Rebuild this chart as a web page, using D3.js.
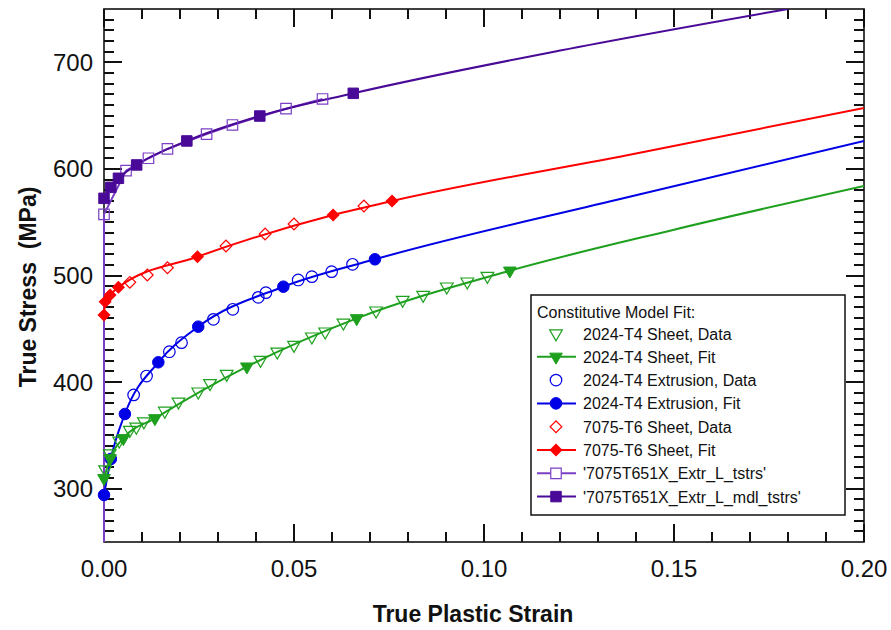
<!DOCTYPE html>
<html>
<head>
<meta charset="utf-8">
<script src="https://cdn.jsdelivr.net/npm/d3@7"></script>
<style>
	body { margin: 0; background: #fff; }
	text { font-family: "Liberation Sans", Arial, sans-serif; }
</style>
</head>
<body>
<div id="chart"></div>
<script>
// Data: [true plastic strain, true stress (MPa)]

const sheet2024Data = [
	[0.0003, 318], [0.0015, 333], [0.0040, 345], [0.0068, 355], [0.0085, 358], [0.0105, 363],
	[0.0160, 373], [0.0196, 381.6], [0.0248, 391], [0.0279, 398.9], [0.0323, 407.6], [0.0412, 420.7],
	[0.0456, 428.5], [0.0500, 434.8], [0.0547, 442.6], [0.0582, 447.3], [0.0630, 455.7], [0.0716, 467],
	[0.0786, 477], [0.0840, 481.7], [0.0902, 489.5], [0.0956, 494.2], [0.1009, 499.5]
]
const sheet2024FitMarks = [
	[0.0000, 309.8], [0.0016, 328.5], [0.0051, 347.3], [0.0134, 366], [0.0376, 414.5], [0.0665, 459.8], [0.1068, 504.5]
]
const sheet2024FitTail = [[0.1500, 543], [0.2000, 584]]

const extr2024Data = [
	[0.0078, 388], [0.0112, 405.7], [0.0172, 428.5], [0.0204, 437], [0.0288, 458.9], [0.0339, 468.3],
	[0.0406, 479.5], [0.0426, 483.9], [0.0511, 495.8], [0.0547, 498.9], [0.0599, 503.6], [0.0654, 510.5]
]
const extr2024FitMarks = [
	[0.0000, 294.1], [0.0018, 327.9], [0.0055, 370.1], [0.0143, 418.6], [0.0248, 452], [0.0472, 489.5], [0.0713, 515.2]
]
const extr2024FitTail = [[0.1350, 571], [0.2000, 626.2]]

const sheet7075Data = [
	[0.0068, 493.6], [0.0114, 500.5], [0.0167, 507.3], [0.0321, 527.7], [0.0424, 538.9], [0.0500, 548.3], [0.0684, 565.2]
]
const sheet7075FitMarks = [
	[0.0000, 463], [0.0003, 475.4], [0.0016, 481.7], [0.0038, 488.9], [0.0246, 517.6], [0.0603, 556.8], [0.0758, 569.9]
]
const sheet7075FitTail = [[0.1400, 614.5], [0.2000, 657.1]]

const extr7075Data = [
	[0.0000, 0], [0.0000, 557.4], [0.0058, 598.3], [0.0117, 610], [0.0167, 618.7], [0.0270, 632.7],
	[0.0338, 641.2], [0.0479, 656.5], [0.0575, 665.6]
]
const extr7075FitMarks = [
	[0.0000, 572.4], [0.0018, 582.7], [0.0038, 591.2], [0.0086, 603.7], [0.0218, 626.2], [0.0410, 649.6], [0.0656, 670.9]
]
const extr7075FitTail = [[0.1200, 711], [0.1800, 750]]

const xTicks = [0, 0.05, 0.10, 0.15, 0.20]
const xMinorTicks = [0.01, 0.02, 0.03, 0.04, 0.06, 0.07, 0.08, 0.09, 0.11, 0.12, 0.13, 0.14, 0.16, 0.17, 0.18, 0.19]
const yTicks = [300, 400, 500, 600, 700]
const yMinorTicks = [260, 270, 280, 290, 310, 320, 330, 340, 350, 360, 370, 380, 390, 410, 420, 430, 440, 450,
	460, 470, 480, 490, 510, 520, 530, 540, 550, 560, 570, 580, 590, 610, 620, 630, 640, 650, 660, 670, 680, 690,
	710, 720, 730, 740]

const legendTitle = "Constitutive Model Fit:"
const legendLabels = [
	"2024-T4 Sheet, Data", "2024-T4 Sheet, Fit",
	"2024-T4 Extrusion, Data", "2024-T4 Extrusion, Fit",
	"7075-T6 Sheet, Data", "7075-T6 Sheet, Fit",
	"'7075T651X_Extr_L_tstrs'", "'7075T651X_Extr_L_mdl_tstrs'"
]

// Config
const dims = { width: 891, height: 630, left: 104, right: 864, top: 9, bottom: 542 }

const colors = {
	green: '#1ea01e',
	blue: '#0000e6',
	red: '#ff0000',
	purpleLight: '#7a3fc4',
	purpleDark: '#4a0a98'
}

// Symbol paths centred at 0,0
function symbolPath(kind) {
	if (kind === 'triangle') return d3.symbol().type(d3.symbolTriangle).size(70)()
	if (kind === 'circle') return d3.symbol().type(d3.symbolCircle).size(105)()
	if (kind === 'diamond') return d3.symbol().type(d3.symbolSquare).size(68)()
	return d3.symbol().type(d3.symbolSquare).size(110)()
}

function symbolTransform(kind, x, y) {
	if (kind === 'triangle') return `translate(${x},${y}) rotate(180)`
	if (kind === 'diamond') return `translate(${x},${y}) rotate(45)`
	return `translate(${x},${y})`
}

function drawMarkers(g, data, kind, color, filled, xScale, yScale) {
	g.append('g').selectAll('path')
		.data(data)
		.join('path')
		.attr('d', symbolPath(kind))
		.attr('transform', (d) => symbolTransform(kind, xScale(d[0]), yScale(d[1])))
		.attr('fill', filled ? color : 'none')
		.attr('stroke', color)
		.attr('stroke-width', filled ? 1 : 1.2)
}

// Builds one path with every inward tick of the frame
function frameTicks(xScale, yScale) {
	const p = d3.path()
	const addX = (values, len) => values.forEach((v) => {
		const x = Math.round(xScale(v))
		p.moveTo(x, dims.bottom); p.lineTo(x, dims.bottom - len)
		p.moveTo(x, dims.top); p.lineTo(x, dims.top + len)
	})
	const addY = (values, len) => values.forEach((v) => {
		const y = Math.round(yScale(v))
		p.moveTo(dims.left, y); p.lineTo(dims.left + len, y)
		p.moveTo(dims.right, y); p.lineTo(dims.right - len, y)
	})
	addX(xTicks, 18)
	addX(xMinorTicks, 10)
	addY(yTicks, 18)
	addY(yMinorTicks, 10)
	return p.toString()
}

function makePlot() {
	const svg = d3.select('#chart')
		.append('svg')
		.attr('width', dims.width)
		.attr('height', dims.height)

	const xScale = d3.scaleLinear()
		.domain([0, 0.2])
		.range([dims.left, dims.right])

	const yScale = d3.scaleLinear()
		.domain([250, 750])
		.range([dims.bottom, dims.top])

	svg.append('clipPath')
		.attr('id', 'plotClip')
		.append('rect')
		.attr('x', dims.left - 8)
		.attr('y', dims.top)
		.attr('width', dims.right - dims.left + 8)
		.attr('height', dims.bottom - dims.top)

	// Frame and ticks
	svg.append('path')
		.attr('d', frameTicks(xScale, yScale))
		.attr('fill', 'none')
		.attr('stroke', '#111')
		.attr('stroke-width', 2)

	svg.append('rect')
		.attr('x', dims.left)
		.attr('y', dims.top)
		.attr('width', dims.right - dims.left)
		.attr('height', dims.bottom - dims.top)
		.attr('fill', 'none')
		.attr('stroke', '#111')
		.attr('stroke-width', 1.6)

	// Tick labels
	svg.append('g').selectAll('text')
		.data(xTicks)
		.join('text')
		.attr('x', (d) => xScale(d))
		.attr('y', 577)
		.attr('text-anchor', 'middle')
		.attr('font-size', '24px')
		.attr('fill', '#111')
		.text((d) => d3.format('.2f')(d))

	svg.append('g').selectAll('text')
		.data(yTicks)
		.join('text')
		.attr('x', 93)
		.attr('y', (d) => yScale(d) + 8.5)
		.attr('text-anchor', 'end')
		.attr('font-size', '24px')
		.attr('fill', '#111')
		.text((d) => d)

	// Axis titles
	svg.append('text')
		.attr('x', 473)
		.attr('y', 622)
		.attr('text-anchor', 'middle')
		.attr('font-size', '23px')
		.attr('font-weight', 'bold')
		.attr('fill', '#111')
		.text('True Plastic Strain')

	svg.append('text')
		.attr('transform', 'translate(36,287) rotate(-90)')
		.attr('text-anchor', 'middle')
		.attr('font-size', '23px')
		.attr('font-weight', 'bold')
		.attr('fill', '#111')
		.style('white-space', 'pre')
		.text('True Stress  (MPa)')

	// Series
	const plot = svg.append('g').attr('clip-path', 'url(#plotClip)')
	const smooth = d3.line()
		.x((d) => xScale(d[0]))
		.y((d) => yScale(d[1]))
		.curve(d3.curveMonotoneX)
	const straight = d3.line()
		.x((d) => xScale(d[0]))
		.y((d) => yScale(d[1]))

	const series = [
		{ data: extr7075Data, marks: extr7075FitMarks, tail: extr7075FitTail, kind: 'square', dataColor: colors.purpleLight, fitColor: colors.purpleDark, dataLine: true },
		{ data: sheet7075Data, marks: sheet7075FitMarks, tail: sheet7075FitTail, kind: 'diamond', dataColor: colors.red, fitColor: colors.red, dataLine: false },
		{ data: extr2024Data, marks: extr2024FitMarks, tail: extr2024FitTail, kind: 'circle', dataColor: colors.blue, fitColor: colors.blue, dataLine: false },
		{ data: sheet2024Data, marks: sheet2024FitMarks, tail: sheet2024FitTail, kind: 'triangle', dataColor: colors.green, fitColor: colors.green, dataLine: false }
	]

	series.forEach((s) => {
		if (s.dataLine) {
			plot.append('path')
				.attr('d', straight(s.data))
				.attr('fill', 'none')
				.attr('stroke', s.dataColor)
				.attr('stroke-width', 2)
		}
		plot.append('path')
			.attr('d', smooth(s.marks.concat(s.tail)))
			.attr('fill', 'none')
			.attr('stroke', s.fitColor)
			.attr('stroke-width', 2)
		const pts = s.dataLine ? s.data.filter((d) => d[1] > 250) : s.data
		drawMarkers(plot, pts, s.kind, s.dataColor, false, xScale, yScale)
		drawMarkers(plot, s.marks, s.kind, s.fitColor, true, xScale, yScale)
	})

	// Legend
	const legend = svg.append('g')
	legend.append('rect')
		.attr('x', 531).attr('y', 295)
		.attr('width', 314).attr('height', 220)
		.attr('fill', '#fff')
		.attr('stroke', '#111')
		.attr('stroke-width', 1.5)
	legend.append('text')
		.attr('x', 537).attr('y', 318)
		.attr('font-size', '16px')
		.attr('fill', '#111')
		.text(legendTitle)

	const legendItems = [
		{ kind: 'triangle', color: colors.green, filled: false },
		{ kind: 'triangle', color: colors.green, filled: true },
		{ kind: 'circle', color: colors.blue, filled: false },
		{ kind: 'circle', color: colors.blue, filled: true },
		{ kind: 'diamond', color: colors.red, filled: false },
		{ kind: 'diamond', color: colors.red, filled: true },
		{ kind: 'square', color: colors.purpleLight, filled: false, line: true },
		{ kind: 'square', color: colors.purpleDark, filled: true }
	]

	legendItems.forEach((item, i) => {
		const cy = 333.5 + i * 23.3
		if (item.filled || item.line) {
			legend.append('line')
				.attr('x1', 537).attr('x2', 576)
				.attr('y1', cy).attr('y2', cy)
				.attr('stroke', item.color)
				.attr('stroke-width', 2)
		}
		legend.append('path')
			.attr('d', symbolPath(item.kind))
			.attr('transform', symbolTransform(item.kind, 556, cy))
			.attr('fill', item.filled ? item.color : (item.line ? '#fff' : 'none'))
			.attr('stroke', item.color)
			.attr('stroke-width', item.filled ? 1 : 1.2)
		legend.append('text')
			.attr('x', 583).attr('y', cy + 6)
			.attr('font-size', '16px')
			.attr('fill', '#111')
			.text(legendLabels[i])
	})
}

makePlot()
</script>
</body>
</html>
